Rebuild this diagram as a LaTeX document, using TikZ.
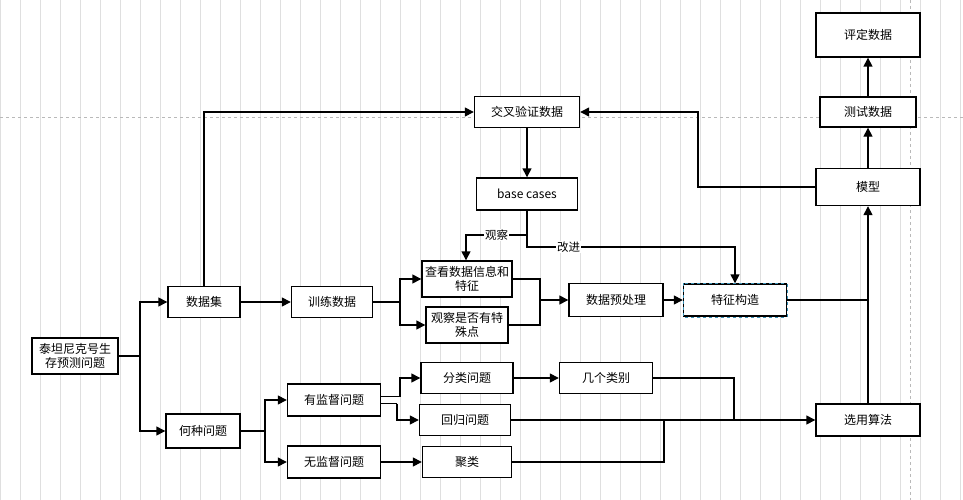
\documentclass[tikz,border=0pt]{standalone}
\usepackage{fontspec}
\setmainfont{Noto Sans CJK SC}
\usetikzlibrary{arrows.meta,positioning}
\tikzset{
    box/.style={draw, line width=1.4pt, fill=white, align=center, inner sep=1pt,
        font=\fontsize{12}{14}\selectfont},
    link/.style={line width=1.4pt, -{Triangle[length=9pt,width=9pt]}},
    line/.style={line width=1.4pt},
    lbl/.style={fill=white, inner sep=1pt, font=\fontsize{11.5}{13}\selectfont}
}
\begin{document}
\begin{tikzpicture}[x=1pt,y=-1pt]
    \useasboundingbox (0,0) rectangle (963,500);
    \fill[white] (0,0) rectangle (963,500);
    % background grid
    \draw[step=20, gray!25, very thin] (0,0) grid (963,500);
    \draw[gray!55, dashed, thin] (0,117) -- (963,117);
    \draw[gray!55, dashed, thin] (910,0) -- (910,500);

    \node[box, minimum width=104, minimum height=44] (rate) at (868,35) {评定数据};
    \node[box, minimum width=96, minimum height=30] (test) at (868,112) {测试数据};
    \node[box, minimum width=104, minimum height=37] (model) at (868,187) {模型};
    \node[box, minimum width=105, minimum height=31] (cv) at (527,112) {交叉验证数据};
    \node[box, minimum width=101, minimum height=32] (base) at (527,194) {base cases};
    \node[box, minimum width=90, minimum height=36, text width=88] (look) at (467,279) {查看数据信息和\\特征};
    \node[box, minimum width=82, minimum height=36, text width=74] (spec) at (467,325) {观察是否有特\\殊点};
    \node[box, minimum width=94, minimum height=33] (prep) at (616,300) {数据预处理};
    \node[box, minimum width=103, minimum height=32] (feat) at (735,300) {特征构造};
    \node[box, minimum width=72, minimum height=31] (set) at (204,302) {数据集};
    \node[box, minimum width=81, minimum height=31] (train) at (332,302) {训练数据};
    \node[box, minimum width=85, minimum height=36, text width=84] (titanic) at (75,356) {泰坦尼克号生\\存预测问题};
    \node[box, minimum width=74, minimum height=34] (kind) at (203,431) {何种问题};
    \node[box, minimum width=93, minimum height=32] (sup) at (334,400) {有监督问题};
    \node[box, minimum width=93, minimum height=32] (unsup) at (334,462) {无监督问题};
    \node[box, minimum width=92, minimum height=31] (cls) at (467,378) {分类问题};
    \node[box, minimum width=91, minimum height=31] (reg) at (465,420) {回归问题};
    \node[box, minimum width=89, minimum height=31] (clu) at (467,462) {聚类};
    \node[box, minimum width=93, minimum height=31] (ncls) at (606,378) {几个类别};
    \node[box, minimum width=104, minimum height=32] (algo) at (868,420) {选用算法};
    % selection handles
    \draw[cyan!70!black, dashed, thin] (feat.north west) rectangle (feat.south east);

    \coordinate (split0) at (140,356);
    \draw[line] (titanic) -- (split0);
    \draw[link] (split0) |- (set);
    \draw[link] (split0) |- (kind);
    \draw[link] (set.north) |- (cv);
    \draw[link] (set) -- (train);
    \coordinate (split1) at (400,302);
    \draw[line] (train) -- (split1);
    \draw[link] (split1) |- (look);
    \draw[link] (split1) |- (spec);
    \coordinate (merge1) at (540,300);
    \draw[line] (look) -| (merge1);
    \draw[line] (spec) -| (merge1);
    \draw[link] (merge1) -- (prep);
    \draw[link] (prep) -- (feat);
    \draw[line] (feat) -- (feat -| model);
    \draw[link] (algo) -- (model);
    \draw[link] (model) -- (test);
    \draw[link] (test) -- (rate);
    \draw[link] (model.west) -- (698,187) |- (cv.east);
    \draw[link] (cv) -- (base);
    \draw[link] (base.south) |- (466,235) node[lbl, pos=0.75] {观察} -- (look.north -| 466,0);
    \draw[link] (base.south) |- (735,247) node[lbl, pos=0.6] {改进} -- (feat.north);
    \coordinate (split2) at (265,431);
    \draw[line] (kind) -- (split2);
    \draw[link] (split2) |- (sup);
    \draw[link] (split2) |- (unsup);
    \draw[line] (sup.east |- 0,396.5) -- (400,396.5);
    \draw[line] (sup.east |- 0,403.5) -- (397,403.5);
    \draw[link] (400,396.5) |- (cls);
    \draw[link] (397,403.5) |- (reg);
    \draw[link] (unsup) -- (clu);
    \draw[link] (cls) -- (ncls);
    \draw[line] (ncls) -| (734,420);
    \draw[line] (clu) -| (664,420);
    \draw[link] (reg) -- (algo);
\end{tikzpicture}
\end{document}
